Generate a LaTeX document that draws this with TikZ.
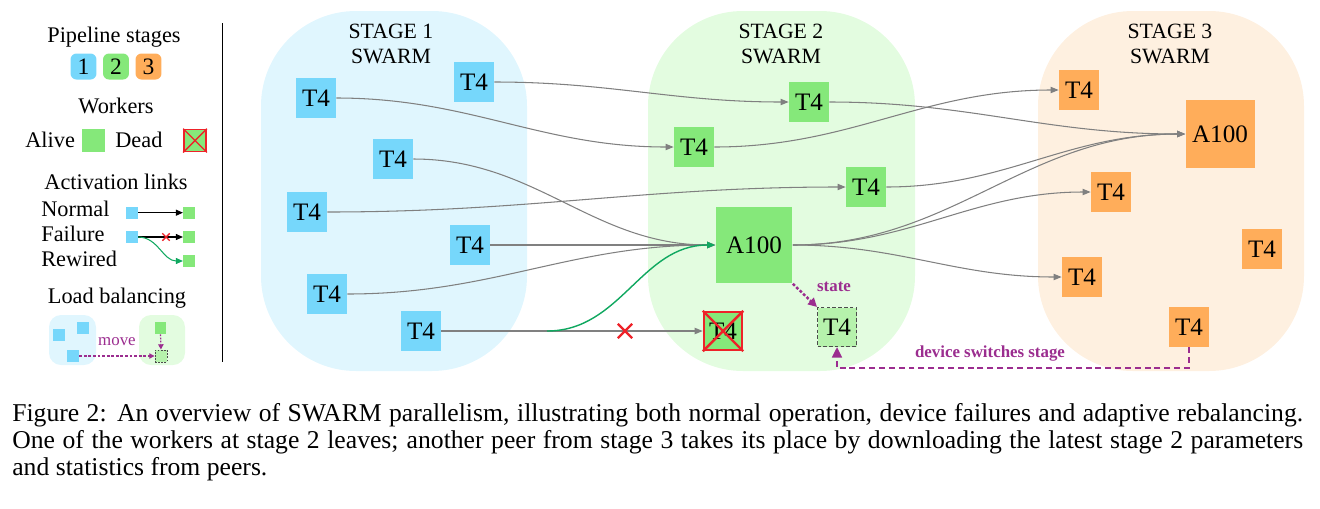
\documentclass[tikz,border=0pt]{standalone}
\usepackage{fontspec}
\setmainfont{Liberation Serif}
\usetikzlibrary{arrows.meta,shapes.misc,calc}

\definecolor{bluenode}{HTML}{76D7FB}
\definecolor{bluebg}{HTML}{E0F6FE}
\definecolor{greennode}{HTML}{85E87A}
\definecolor{greenbg}{HTML}{E3FCE0}
\definecolor{orangenode}{HTML}{FFAD5A}
\definecolor{orangebg}{HTML}{FEF0E0}
\definecolor{newgreen}{HTML}{B6F2AC}
\definecolor{movepurple}{HTML}{9B2D8F}
\definecolor{failred}{HTML}{EE2229}
\definecolor{rewiregreen}{HTML}{10A860}
\definecolor{linkgray}{HTML}{808080}

\begin{document}
\begin{tikzpicture}[x=0.02cm, y=-0.02cm,
        >={Triangle[length=4.6pt,width=3.6pt]},
        worker/.style={rectangle, inner sep=0pt, minimum size=0.8cm, font=\fontsize{14.3}{16}\selectfont},
        s1/.style={worker, fill=bluenode},
        s2/.style={worker, fill=greennode},
        s3/.style={worker, fill=orangenode},
        big/.style={minimum size=#1},
        title/.style={align=center, inner sep=0pt, font=\fontsize{12.4}{14.2}\selectfont},
        legend/.style={inner sep=0pt, font=\fontsize{12.7}{14}\selectfont},
        badge/.style={rectangle, rounded corners=0.12cm, inner sep=0pt, minimum size=0.52cm, font=\fontsize{13.4}{14}\selectfont},
        sq/.style={rectangle, inner sep=0pt, minimum size=0.46cm},
        tiny/.style={rectangle, inner sep=0pt, minimum size=0.24cm},
        link/.style={draw=linkgray, line width=0.6pt, ->},
        rewire/.style={draw=rewiregreen, line width=0.8pt},
        cut/.style={cross out, draw=failred, inner sep=0pt, line width=1.3pt, minimum size=#1},
        purplelbl/.style={inner sep=0pt, text=movepurple, font=\bfseries\fontsize{9.6}{10}\selectfont},
        newbox/.style={fill=newgreen, draw=black!70, line width=0.6pt, dash pattern=on 2pt off 1.3pt}
    ]
        \useasboundingbox (0,0) rectangle (1320,508);

        % swarm regions
        \fill[bluebg, rounded corners=1.9cm] (261,11) rectangle (527,371);
        \fill[greenbg, rounded corners=1.9cm] (648,11) rectangle (915,371);
        \fill[orangebg, rounded corners=1.9cm] (1038,11) rectangle (1304,371);
        \node[title] (t1) at (391,44) {STAGE 1\\SWARM};
        \node[title] (t2) at (781,44) {STAGE 2\\SWARM};
        \node[title] (t3) at (1170,44) {STAGE 3\\SWARM};

        % stage 1
        \node[s1] (a1) at (316,98) {T4};
        \node[s1] (b1) at (474,82) {T4};
        \node[s1] (c1) at (393,159) {T4};
        \node[s1] (d1) at (307,212) {T4};
        \node[s1] (e1) at (470,245) {T4};
        \node[s1] (f1) at (327,294) {T4};
        \node[s1] (g1) at (421,331) {T4};

        % stage 2
        \node[s2] (a2) at (809,102) {T4};
        \node[s2] (b2) at (694,147) {T4};
        \node[s2] (c2) at (866,187) {T4};
        \node[s2, big=1.54cm] (big2) at (754,245) {A100};
        \node[s2, draw=failred, line width=1.4pt, minimum size=0.76cm] (dead) at (723,331) {T4};
        \draw[failred, line width=1.4pt] (dead.north west) -- (dead.south east) (dead.north east) -- (dead.south west);
        \node[worker, newbox, minimum size=0.78cm] (new) at (837,327) {T4};

        % stage 3
        \node[s3] (a3) at (1079,90) {T4};
        \node[s3, big=1.38cm] (big3) at (1220,134) {A100};
        \node[s3] (b3) at (1111,192) {T4};
        \node[s3] (c3) at (1262,249) {T4};
        \node[s3] (d3) at (1082,277) {T4};
        \node[s3] (e3) at (1189,327) {T4};

        % activation links
        \draw[link] (b1.east) to[out=0,in=180] (a2.west);
        \draw[link] (a1.east) to[out=0,in=180] (b2.west);
        \draw[link] (c1.east) to[out=0,in=180] (big2.west);
        \draw[link] (d1.east) to[out=0,in=180] (c2.west);
        \draw[link] (e1.east) -- (big2.west);
        \draw[link] (f1.east) to[out=0,in=180] (big2.west);
        \draw[link] (g1.east) -- (dead.west);
        \node[cut=0.24cm] (x1) at (625,331) {};
        \coordinate (fork) at (547,331);
        \draw[rewire, ->] (fork) to[out=0,in=180] (big2.west);

        \draw[link] (a2.east) to[out=0,in=180] (big3.west);
        \draw[link] (b2.east) to[out=0,in=180] (a3.west);
        \draw[link] (c2.east) to[out=0,in=180] (big3.west);
        \draw[link] (big2.east) to[out=0,in=180] (big3.west);
        \draw[link] (big2.east) to[out=0,in=180] (b3.west);
        \draw[link] (big2.east) to[out=0,in=180] (d3.west);

        % rebalancing
        \draw[movepurple, line width=1.4pt, dash pattern=on 1.6pt off 1.1pt, -{Triangle[length=5pt,width=5pt]}] (big2.south east) -- (new.north west);
        \node[purplelbl] (statelbl) at (834,287) {state};
        \coordinate (turn) at (1189,368);
        \draw[movepurple, line width=1.4pt, dash pattern=on 3.4pt off 2.2pt, -{Triangle[length=6pt,width=5.5pt]}] (e3.south) -- (turn) -| (new.south);
        \node[purplelbl] (switchlbl) at (990,354) {device switches stage};

        % legend
        \draw[line width=0.6pt] (222.5,23) -- (222.5,362);
        \node[legend, anchor=base] (lgstages) at (114,42) {Pipeline stages};
        \node[badge, fill=bluenode] (bd1) at (83.5,66.5) {1};
        \node[badge, fill=greennode] (bd2) at (116,66.5) {2};
        \node[badge, fill=orangenode] (bd3) at (148.5,66.5) {3};
        \node[legend, anchor=base] (lgworkers) at (116,113) {Workers};
        \node[legend, anchor=base west] (lgalive) at (25,147) {Alive};
        \node[sq, fill=greennode] (alive) at (93.5,140.5) {};
        \node[legend, anchor=base west] (lgdead) at (115,147) {Dead};
        \node[sq, fill=greennode, draw=failred, line width=1pt, minimum size=0.44cm] (deadlg) at (195,140.5) {};
        \draw[failred, line width=0.8pt] (deadlg.north west) -- (deadlg.south east) (deadlg.north east) -- (deadlg.south west);

        \node[legend, anchor=base] (lglinks) at (116,189) {Activation links};
        \node[legend, anchor=base west] (lgnormal) at (41,216.7) {Normal};
        \node[legend, anchor=base west] (lgfail) at (41,241.7) {Failure};
        \node[legend, anchor=base west] (lgrewired) at (41,266.7) {Rewired};
        \node[tiny, fill=bluenode] (n1) at (131.7,212.7) {};
        \node[tiny, fill=greennode] (n2) at (189.3,212.7) {};
        \node[tiny, fill=bluenode] (fl1) at (131.7,237) {};
        \node[tiny, fill=greennode] (fl2) at (189.3,237) {};
        \node[tiny, fill=greennode] (rw2) at (189.3,261) {};
        \draw[line width=0.6pt, -{Triangle[length=4pt,width=3.4pt]}] (n1) -- (n2);
        \draw[line width=0.6pt, -{Triangle[length=4pt,width=3.4pt]}] (fl1) -- (fl2);
        \node[cut=0.12cm, line width=0.8pt] (x2) at (166,237) {};
        \draw[rewire, line width=0.6pt, -{Triangle[length=4pt,width=3.4pt]}] (fl1.east) to[out=0,in=180] (rw2.west);

        \node[legend, anchor=base] (lgload) at (117,303) {Load balancing};
        \fill[bluebg, rounded corners=0.24cm] (49,315) rectangle (96,365);
        \fill[greenbg, rounded corners=0.24cm] (139,315) rectangle (185,365);
        \node[tiny, fill=bluenode] (lb1) at (59,335) {};
        \node[tiny, fill=bluenode] (lb2) at (83,328) {};
        \node[tiny, fill=bluenode] (lb3) at (73,356) {};
        \node[tiny, fill=greennode] (lbg) at (160.5,328) {};
        \node[tiny, newbox, line width=0.5pt, dash pattern=on 1pt off 0.8pt] (lbnew) at (161,356) {};
        \draw[movepurple, line width=0.7pt, dash pattern=on 1.6pt off 1pt, -{Triangle[length=3pt,width=3pt]}] (lb3.east) -- (lbnew.west)
            node[midway, above=2.4pt, text=movepurple, font=\fontsize{9.6}{10}\selectfont] (lgmove) {move};
        \draw[movepurple, line width=0.7pt, dash pattern=on 1pt off 0.8pt, -{Triangle[length=3pt,width=3pt]}] (lbg.south) -- (lbnew.north);

        % caption
        \node[anchor=base west, inner sep=0pt, text width=25.82cm, align=justify, font=\fontsize{14.6}{15.4}\selectfont] (caption) at (12,421)
            {Figure 2: An overview of SWARM parallelism, illustrating both normal operation, device failures and adaptive rebalancing.\linebreak
            One of the workers at stage 2 leaves; another peer from stage 3 takes its place by downloading the latest stage 2 parameters\linebreak
            and statistics from peers.};
\end{tikzpicture}
\end{document}
